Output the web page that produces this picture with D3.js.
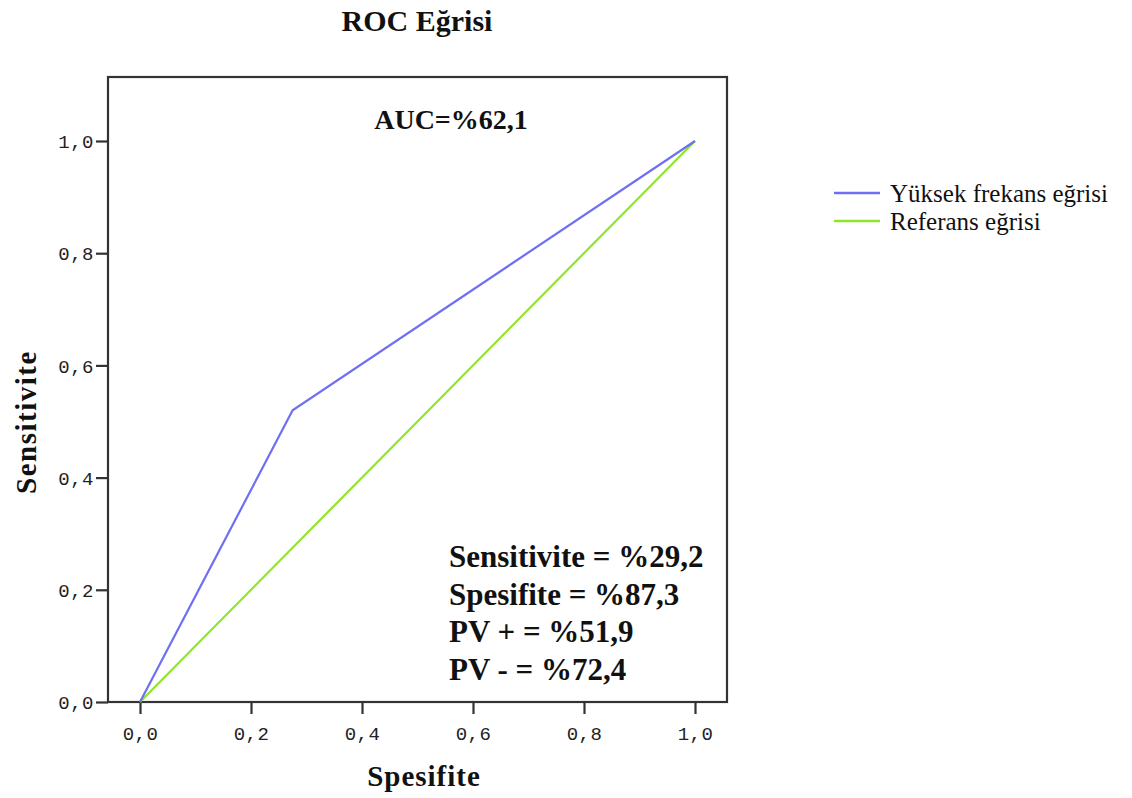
<!DOCTYPE html>
<html>
<head>
<meta charset="utf-8">
<script src="https://cdn.jsdelivr.net/npm/d3@7"></script>
<style>
  html, body { margin: 0; padding: 0; background: #fff; }
  svg { display: block; }
</style>
</head>
<body>
<svg id="chart" width="1132" height="798"></svg>
<script>
// ROC curve data (1 - specificity on x, sensitivity on y)
const curveX = [0, 0.275, 1];
const curveY = [0, 0.52, 1];
const refX = [0, 1];
const refY = [0, 1];
const tickValues = [0, 0.2, 0.4, 0.6, 0.8, 1.0];
const seriesNames = ["Yüksek frekans eğrisi", "Referans eğrisi"];
const seriesColors = ["#6f6ff4", "#8fe52c"];
const statLines = ["Sensitivite = %29,2", "Spesifite = %87,3", "PV + = %51,9", "PV - = %72,4"];
const aucText = "AUC=%62,1";

const svg = d3.select("#chart");
const serif = "'Liberation Serif', 'Times New Roman', serif";
const mono = "'Liberation Mono', 'DejaVu Sans Mono', monospace";

// scales: 0..1 maps to the inner region, the frame extends a bit beyond
const x = d3.scaleLinear().domain([0, 1]).range([140, 695]);
const y = d3.scaleLinear().domain([0, 1]).range([702, 141]);
const xMin = x.invert(108), xMax = x.invert(727);
const yMax = y.invert(77);

// frame
svg.append("rect")
  .attr("x", x(xMin)).attr("y", y(yMax))
  .attr("width", x(xMax) - x(xMin)).attr("height", y(0) - y(yMax))
  .attr("fill", "none").attr("stroke", "#333").attr("stroke-width", 2.2);

// axes
const fmt = d => d.toFixed(1).replace(".", ",");
const xAxis = d3.axisBottom(x).tickValues(tickValues).tickFormat(fmt).tickSize(12).tickSizeOuter(0);
const yAxis = d3.axisLeft(y).tickValues(tickValues).tickFormat(fmt).tickSize(12).tickSizeOuter(0);

const gx = svg.append("g").attr("transform", `translate(0,${y(0)})`).call(xAxis);
const gy = svg.append("g").attr("transform", `translate(${x(xMin)},0)`).call(yAxis);
[gx, gy].forEach(g => {
  g.select(".domain").remove();
  g.selectAll(".tick line").attr("stroke", "#333").attr("stroke-width", 2.2);
  g.selectAll(".tick text").attr("font-family", mono).attr("font-size", 19)
    .attr("fill", "#222").attr("letter-spacing", 0.5);
});
gx.selectAll(".tick text").attr("dy", 0).attr("y", 38);
gy.selectAll(".tick text").attr("x", -14).attr("dy", "0.35em");

// curves
const line = d3.line().x(d => x(d[0])).y(d => y(d[1]));
svg.append("path")
  .datum(refX.map((v, i) => [v, refY[i]]))
  .attr("d", line).attr("fill", "none")
  .attr("stroke", seriesColors[1]).attr("stroke-width", 2.2);
svg.append("path")
  .datum(curveX.map((v, i) => [v, curveY[i]]))
  .attr("d", line).attr("fill", "none")
  .attr("stroke", seriesColors[0]).attr("stroke-width", 2.2);

// title
svg.append("text").attr("x", 417).attr("y", 31).attr("text-anchor", "middle")
  .attr("font-family", serif).attr("font-weight", "bold").attr("font-size", 30)
  .attr("fill", "#111").text("ROC Eğrisi");

// axis titles
svg.append("text").attr("x", 424).attr("y", 786).attr("text-anchor", "middle")
  .attr("font-family", serif).attr("font-weight", "bold").attr("font-size", 29)
  .attr("letter-spacing", 1).attr("fill", "#111").text("Spesifite");
svg.append("text").attr("transform", "translate(36,422) rotate(-90)").attr("text-anchor", "middle")
  .attr("font-family", serif).attr("font-weight", "bold").attr("font-size", 29)
  .attr("letter-spacing", 1.5).attr("fill", "#111").text("Sensitivite");

// AUC annotation
svg.append("text").attr("x", 451).attr("y", 129).attr("text-anchor", "middle")
  .attr("font-family", serif).attr("font-weight", "bold").attr("font-size", 28)
  .attr("fill", "#111").text(aucText);

// statistics block
svg.append("g").selectAll("text").data(statLines).join("text")
  .attr("x", 449).attr("y", (d, i) => 567 + i * 37.7)
  .attr("font-family", serif).attr("font-weight", "bold").attr("font-size", 31)
  .attr("fill", "#111").text(d => d);

// legend
const legend = svg.append("g").attr("transform", "translate(834,193)");
const items = legend.selectAll("g").data(seriesNames).join("g")
  .attr("transform", (d, i) => `translate(0,${i * 28})`);
items.append("line").attr("x1", 0).attr("x2", 46).attr("y1", 0).attr("y2", 0)
  .attr("stroke", (d, i) => seriesColors[i]).attr("stroke-width", 2.5);
items.append("text").attr("x", 56).attr("y", 8.5)
  .attr("font-family", serif).attr("font-size", 25).attr("fill", "#111").text(d => d);
</script>
</body>
</html>
